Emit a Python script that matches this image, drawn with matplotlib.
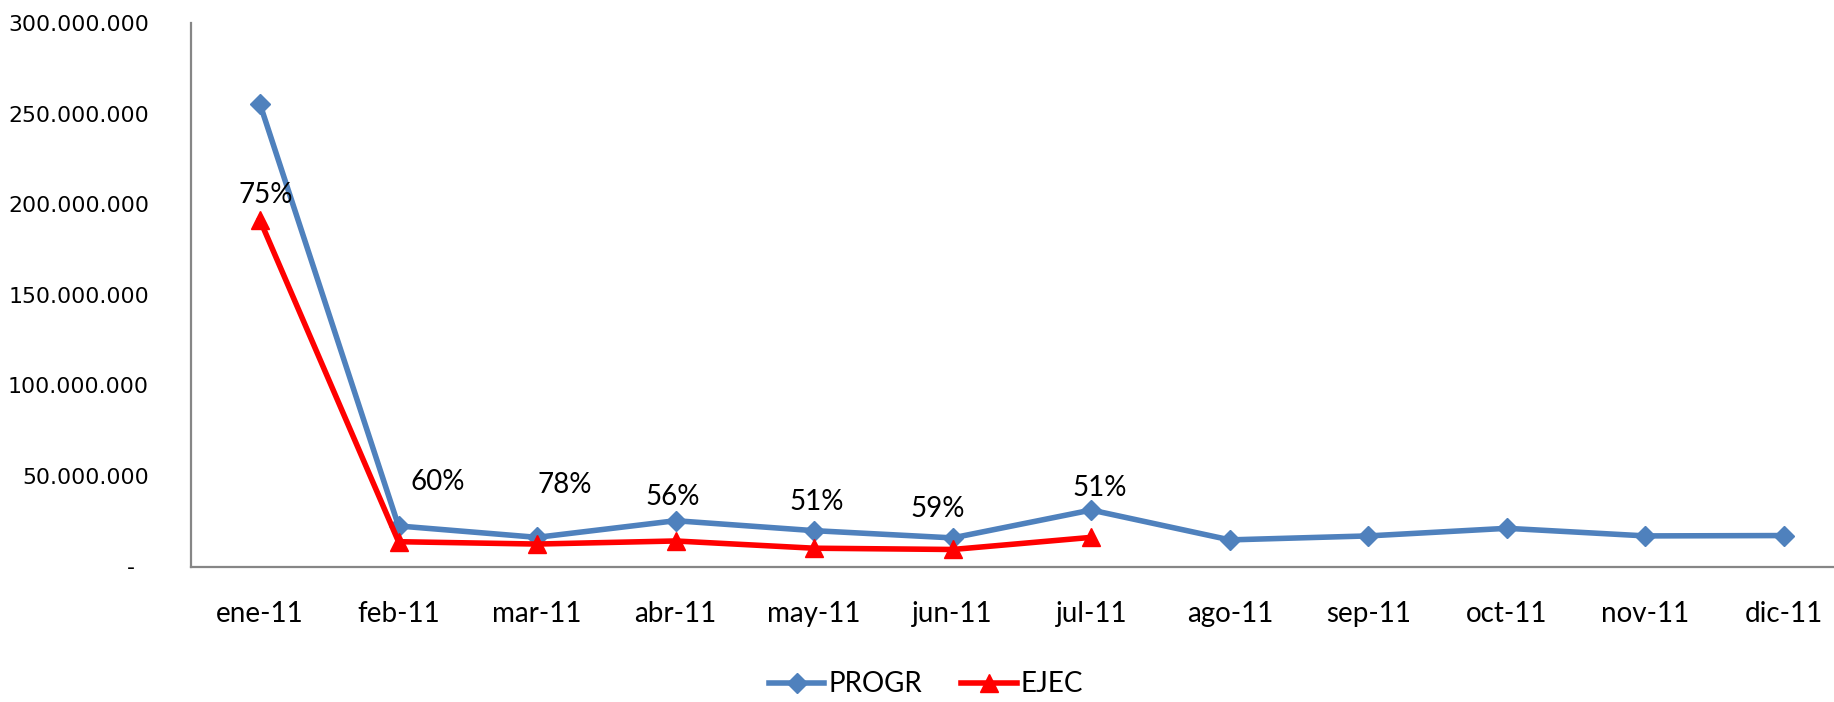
import matplotlib.pyplot as plt
from matplotlib.ticker import FixedLocator

# datos
meses = ["ene-11", "feb-11", "mar-11", "abr-11", "may-11", "jun-11",
         "jul-11", "ago-11", "sep-11", "oct-11", "nov-11", "dic-11"]
progr = [255.5e6, 22.4e6, 16.1e6, 25.3e6, 19.8e6, 15.8e6,
         31.2e6, 14.7e6, 16.9e6, 21.1e6, 16.9e6, 17.1e6]
ejec = [191.4e6, 13.7e6, 12.4e6, 14.1e6, 10.1e6, 9.4e6, 16.1e6]
porcentajes = ["75%", "60%", "78%", "56%", "51%", "59%", "51%"]

# posicion de las etiquetas (colocadas a mano en el original)
lab_x = [0.04, 1.28, 2.20, 2.98, 4.02, 4.89, 6.06]
lab_y = [205.3e6, 46.9e6, 45.1e6, 38.2e6, 35.4e6, 32.0e6, 43.1e6]

azul = "#4F81BD"
rojo = "#FF0000"
gris = "#868686"

fig = plt.figure(figsize=(18.34, 7.02), dpi=100)
ax = fig.add_axes([190.7 / 1834, 1 - 566.5 / 702, 1662.6 / 1834, 543.0 / 702])

x = list(range(len(meses)))
ax.plot(x, progr, color=azul, lw=4, marker="D", ms=10, label="PROGR")
ax.plot(x[:len(ejec)], ejec, color=rojo, lw=4, marker="^", ms=13.5, label="EJEC")

for i, txt in enumerate(porcentajes):
    ax.text(lab_x[i], lab_y[i], txt, ha="center", va="center",
            fontsize=20, family="Lato", color="black")

ax.set_xlim(-0.5, 11.5)
ax.set_ylim(0, 300e6)
ax.set_xticks(x)
ax.set_xticklabels(meses, fontsize=20, family="Lato")
yt = [0, 50e6, 100e6, 150e6, 200e6, 250e6, 300e6]
ax.yaxis.set_major_locator(FixedLocator(yt))
ylabs = ["-  "] + ["{:,.0f}".format(v).replace(",", ".") for v in yt[1:]]
ax.set_yticklabels(ylabs, fontsize=15.8)

ax.tick_params(axis="x", length=0, pad=25)
ax.tick_params(axis="y", length=0, pad=30)
for s in ["top", "right"]:
    ax.spines[s].set_visible(False)
for s in ["left", "bottom"]:
    ax.spines[s].set_color(gris)
    ax.spines[s].set_linewidth(1.6)

leg = fig.legend(loc="center", bbox_to_anchor=(0.505, 0.025), ncol=2,
                 frameon=False, prop={"family": "Lato", "size": 20},
                 handlelength=2.0, columnspacing=1.4, handletextpad=0.15)

fig.savefig("out.png", dpi=100)
